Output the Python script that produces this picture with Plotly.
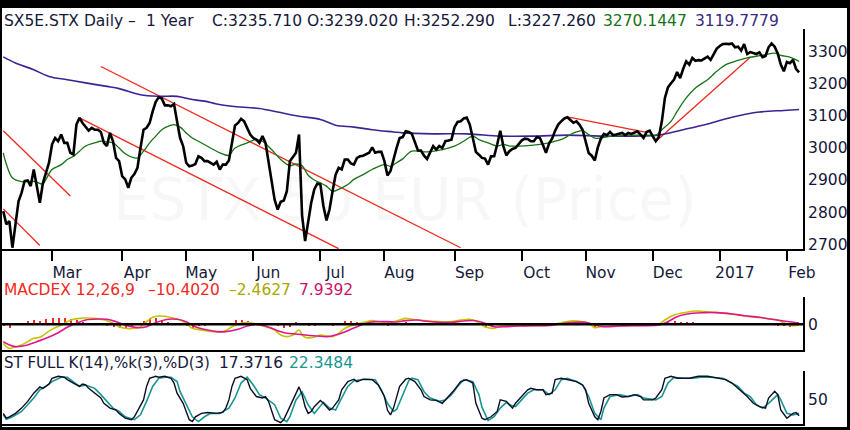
"""
SX5E daily chart, 1 year, with MACD and full stochastic panels
"""

import pandas as pd
import plotly.graph_objects as go
from plotly.subplots import make_subplots

# trading sessions from Feb 8 2016 (weekdays only)
sessions = pd.bdate_range("2016-02-08", periods=262)

# daily close, one value per session
close = [
    2803, 2762, 2772, 2689, 2762, 2834, 2860, 2897, 2899, 2881,
    2933, 2886, 2829, 2891, 2922, 2954, 3011, 3031, 3021, 3042,
    3016, 3016, 2985, 2980, 3073, 3094, 3078, 3065, 3054, 3063,
    3057, 3057, 3050, 3016, 3006, 3047, 3021, 2969, 2959, 2912,
    2902, 2876, 2907, 2919, 2938, 3000, 3057, 3063, 3078, 3114,
    3144, 3158, 3154, 3133, 3133, 3130, 3137, 3083, 3031, 3006,
    2954, 2943, 2945, 2950, 2974, 2969, 2959, 2959, 2954, 2948,
    2957, 2933, 2948, 2948, 2961, 3016, 3070, 3078, 3091, 3083,
    3063, 3042, 3031, 3026, 3016, 3037, 3016, 2959, 2897, 2839,
    2808, 2832, 2836, 2865, 2959, 2973, 2985, 3042, 2790, 2710,
    2772, 2829, 2871, 2889, 2886, 2819, 2774, 2808, 2865, 2917,
    2938, 2933, 2964, 2964, 2952, 2948, 2969, 2974, 2976, 2980,
    2985, 3002, 2985, 2988, 2988, 2959, 2914, 2928, 2969, 3000,
    3031, 3034, 3052, 3050, 3044, 3016, 2992, 2992, 2976, 2966,
    2988, 3006, 2995, 3006, 3000, 3021, 3023, 3026, 3065, 3081,
    3083, 3092, 3095, 3073, 3031, 2988, 2979, 2969, 2967, 2948,
    2974, 2974, 3011, 3054, 3006, 2977, 2990, 2997, 3000, 3011,
    3023, 3029, 3028, 3021, 3021, 3034, 3031, 3009, 2985, 3014,
    3029, 3054, 3073, 3083, 3092, 3096, 3088, 3079, 3083, 3072,
    3057, 3018, 2984, 2976, 2961, 3002, 3029, 3044, 3040, 3050,
    3040, 3042, 3044, 3047, 3040, 3047, 3044, 3047, 3052, 3042,
    3031, 3050, 3054, 3037, 3021, 3034, 3083, 3156, 3189, 3202,
    3213, 3237, 3218, 3247, 3270, 3260, 3281, 3272, 3274, 3273,
    3278, 3285, 3275, 3293, 3310, 3318, 3324, 3325, 3324, 3326,
    3314, 3316, 3304, 3324, 3293, 3299, 3295, 3293, 3298, 3283,
    3287, 3314, 3326, 3316, 3295, 3260, 3239, 3268, 3264, 3275,
    3247, 3236,
]

# short moving average (green), read at session numbers
ma_short_day = [0, 1, 3, 6, 10, 13, 14, 16, 19, 21, 23, 25, 27, 30, 32, 34, 36, 38,
                40, 43, 44, 46, 48, 50, 52, 55, 56, 58, 60, 62, 64, 68, 71, 74, 76,
                80, 83, 85, 88, 91, 94, 96, 98, 100, 102, 104, 106, 108, 110, 113,
                115, 118, 121, 125, 127, 129, 131, 134, 139, 144, 148, 151, 154,
                156, 159, 162, 164, 166, 169, 173, 176, 179, 181, 184, 186, 188,
                190, 192, 194, 196, 199, 202, 207, 211, 214, 216, 219, 221, 224,
                227, 231, 234, 237, 241, 244, 247, 250, 253, 255, 258, 261]
ma_short_val = [2985, 2950, 2907, 2895, 2896, 2888, 2902, 2933, 2948, 2964, 2974,
                2990, 3006, 3016, 3021, 3019, 3016, 3000, 2982, 2969, 2969, 2990,
                3016, 3037, 3057, 3071, 3073, 3065, 3047, 3031, 3021, 3000, 2985,
                2977, 3000, 3016, 3026, 3021, 2995, 2964, 2945, 2950, 2945, 2915,
                2900, 2891, 2881, 2865, 2871, 2886, 2902, 2917, 2933, 2948, 2943,
                2954, 2966, 2990, 2988, 2995, 3006, 3021, 3037, 3026, 3016, 3006,
                3011, 3006, 3006, 3008, 3011, 3016, 3021, 3031, 3042, 3050, 3054,
                3042, 3031, 3031, 3036, 3038, 3040, 3040, 3040, 3057, 3083, 3114,
                3156, 3187, 3213, 3239, 3260, 3273, 3281, 3286, 3291, 3296, 3289,
                3283, 3270]

# long moving average (purple)
ma_long_day = [0, 4, 10, 15, 21, 27, 34, 38, 45, 51, 57, 62, 66, 70, 75, 84, 90,
               97, 104, 109, 115, 121, 128, 131, 141, 152, 163, 174, 185, 197, 207,
               215, 223, 231, 239, 248, 256, 261]
ma_long_val = [3284, 3265, 3244, 3223, 3213, 3203, 3192, 3185, 3166, 3161, 3161,
               3151, 3146, 3137, 3130, 3123, 3112, 3099, 3089, 3071, 3065, 3057,
               3050, 3047, 3044, 3044, 3037, 3037, 3040, 3037, 3037, 3040, 3057,
               3075, 3096, 3112, 3117, 3120]

# drawn support / resistance levels
levels = [3330, 3263, 3215, 3100]

# drawn trend lines: start / end session and price
trend_start_day = [0, 0, 32, 25, 185, 214]
trend_start_val = [3054, 2810, 3254, 3094, 3097, 3020]
trend_end_day = [22, 12, 150, 110, 211, 245]
trend_end_val = [2850, 2696, 2689, 2686, 3049, 3283]

# MACD line (yellow) and signal (magenta)
macd_day = [0, 1, 2, 4, 6, 8, 10, 12, 14, 16, 19, 21, 23, 25, 27, 30, 32, 34, 36,
            38, 40, 43, 45, 47, 49, 51, 54, 56, 58, 60, 62, 65, 67, 69, 71, 73,
            75, 78, 80, 82, 84, 86, 89, 91, 93, 95, 97, 98, 99, 102, 104, 106,
            108, 110, 112, 115, 117, 119, 121, 123, 126, 128, 130, 132, 134, 138,
            143, 147, 150, 153, 156, 158, 161, 163, 171, 180, 183, 186, 190, 192,
            194, 196, 204, 209, 215, 217, 220, 224, 227, 230, 233, 237, 241, 245,
            250, 254, 256, 259, 261]
macd_val = [-114, -134, -144, -134, -124, -104, -84, -78, -54, -30, -4, 16, 30,
            36, 38, 36, 30, 22, 6, -14, -24, -24, -14, 16, 42, 50, 46, 36, 26, 6,
            -24, -34, -40, -44, -44, -38, -14, 6, 10, 6, -4, -14, -34, -64, -74,
            -64, -34, -64, -78, -78, -64, -70, -74, -54, -24, -4, 6, 16, 22, 16,
            10, 16, 26, 36, 30, 22, 16, 16, 26, 30, 10, -14, -24, -10, -8, -4, 10,
            20, 16, 6, -20, -14, -8, -6, 2, 26, 56, 72, 80, 76, 72, 66, 56, 46,
            36, 26, 10, -8, -2]

signal_day = [0, 2, 4, 8, 11, 14, 18, 21, 24, 27, 31, 34, 37, 40, 44, 47, 50, 54,
              57, 60, 63, 67, 70, 73, 77, 80, 83, 86, 90, 93, 96, 99, 103, 106,
              109, 113, 116, 119, 122, 126, 129, 132, 136, 138, 143, 147, 151, 155,
              158, 161, 165, 169, 173, 178, 182, 186, 191, 194, 197, 202, 206, 210,
              215, 218, 221, 226, 230, 234, 239, 243, 248, 252, 256, 261]
signal_val = [-104, -124, -134, -124, -104, -84, -50, -18, 6, 26, 32, 30, 16, -4,
              -20, -14, 10, 30, 30, 16, -14, -34, -44, -44, -30, -10, 0, -10, -38,
              -54, -58, -64, -70, -74, -64, -38, -14, 6, 16, 16, 14, 22, 26, 20,
              12, 12, 20, 22, 6, -14, -14, -10, -8, -8, 0, 10, 12, -4, -14, -10,
              -8, -8, -4, 16, 46, 66, 70, 70, 62, 52, 42, 30, 20, 8]

# MACD histogram, every second session
hist_day = list(range(0, 262, 2))
hist_val = [-10, -20, 0, 6, 20, 26, 22, 30, 38, 38, 36, 34, 27, 17, 9, 5, -2, -8,
            -16, -22, -20, -11, 2, 23, 38, 38, 29, 16, 5, -1, -10, -24, -10, -10,
            -4, 0, 4, 10, 25, 28, 20, 9, -2, -4, 0, -12, -22, -14, 13, -2, -12, -8,
            8, 4, -6, 4, 20, 20, 16, 12, 10, 4, -2, -6, 1, 8, 14, 6, 0, 2, 2, 3, 4,
            4, 6, 8, 8, 0, -4, -20, -14, -2, 5, 4, 2, 1, 1, 2, 3, 4, 0, 6, 9, 10,
            7, 4, -2, -16, -2, 1, 2, 1, 1, 1, 2, 2, 3, 5, 10, 20, 20, 14, 12, 12,
            11, 6, 3, 0, 0, 0, -2, -1, -2, -2, -2, -4, -4, -6, -10, -14, -10]

# full stochastic %K (black) and %D (teal)
stk_day = [0, 1, 2, 4, 6, 8, 10, 12, 13, 15, 16, 18, 20, 21, 23, 25, 26, 27, 28,
           30, 32, 33, 35, 37, 38, 40, 42, 43, 44, 46, 47, 48, 50, 51, 53, 55, 56,
           57, 59, 60, 61, 62, 63, 65, 67, 70, 72, 73, 74, 75, 76, 78, 80, 81, 83,
           85, 86, 87, 88, 89, 91, 92, 94, 96, 97, 98, 99, 100, 101, 102, 104,
           105, 107, 108, 110, 111, 113, 115, 116, 118, 120, 121, 123, 125, 126,
           127, 128, 130, 132, 133, 135, 137, 138, 140, 142, 144, 146, 148, 150,
           152, 154, 155, 157, 158, 160, 162, 163, 165, 167, 168, 170, 172, 173,
           175, 177, 178, 180, 181, 183, 185, 188, 190, 191, 192, 194, 195, 196,
           197, 199, 201, 203, 205, 207, 209, 210, 213, 214, 216, 217, 219, 221,
           225, 228, 231, 235, 237, 239, 241, 243, 244, 246, 248, 250, 251, 253,
           254, 255, 257, 259, 260, 261]
stk_val = [22, 12, 15, 22, 33, 47, 64, 77, 74, 83, 95, 99, 97, 92, 85, 78, 83, 81,
           74, 64, 54, 43, 33, 29, 22, 12, 9, 15, 26, 50, 78, 95, 99, 97, 99, 95,
           85, 64, 43, 26, 9, 5, 15, 22, 24, 22, 24, 33, 50, 78, 95, 99, 92, 74,
           57, 54, 57, 47, 29, 9, 3, 9, 36, 64, 77, 61, 36, 22, 26, 36, 49, 43,
           29, 33, 50, 71, 88, 93, 88, 93, 93, 92, 81, 57, 29, 19, 33, 78, 93, 95,
           88, 71, 57, 50, 49, 43, 57, 71, 88, 92, 85, 43, 12, 9, 15, 26, 50, 47,
           33, 43, 57, 71, 74, 71, 71, 61, 64, 92, 95, 92, 88, 81, 71, 43, 15, 9,
           26, 54, 61, 61, 56, 57, 61, 57, 50, 50, 54, 71, 95, 99, 95, 95, 99, 99,
           95, 92, 85, 74, 61, 57, 43, 36, 33, 54, 68, 61, 29, 12, 22, 24, 17]

std_day = [0, 1, 3, 6, 8, 10, 12, 14, 16, 19, 21, 23, 25, 27, 30, 32, 34, 36, 38,
           40, 43, 45, 47, 49, 51, 53, 55, 57, 58, 60, 62, 64, 66, 68, 71, 74, 76,
           78, 80, 82, 84, 86, 89, 91, 93, 94, 96, 98, 100, 102, 103, 105, 107,
           109, 111, 113, 115, 117, 119, 122, 124, 126, 128, 129, 131, 133, 134,
           136, 138, 140, 143, 145, 147, 149, 151, 154, 156, 157, 159, 161, 163,
           165, 166, 168, 170, 172, 174, 177, 179, 181, 183, 185, 188, 190, 192,
           194, 196, 197, 199, 202, 205, 208, 210, 214, 216, 218, 220, 223, 226,
           229, 232, 236, 238, 241, 243, 245, 247, 249, 251, 254, 255, 257, 259,
           261]
std_val = [19, 10, 15, 26, 40, 54, 71, 78, 88, 97, 97, 88, 78, 81, 74, 61, 47, 33,
           26, 15, 9, 19, 47, 78, 95, 97, 97, 88, 67, 40, 15, 5, 15, 22, 22, 33,
           54, 85, 97, 81, 61, 54, 40, 12, 5, 15, 50, 67, 40, 22, 30, 45, 33, 29,
           54, 78, 90, 92, 93, 92, 71, 43, 26, 30, 60, 90, 95, 92, 67, 54, 47, 50,
           61, 78, 92, 88, 61, 35, 7, 15, 33, 45, 40, 36, 50, 64, 71, 71, 61, 71,
           92, 95, 88, 81, 57, 22, 9, 33, 57, 61, 57, 61, 54, 50, 57, 85, 97, 95,
           95, 97, 97, 95, 88, 78, 64, 57, 40, 33, 43, 61, 50, 22, 19, 22]

month_ticks = ["2016-03-01", "2016-04-01", "2016-05-02", "2016-06-01", "2016-07-01",
               "2016-08-01", "2016-09-01", "2016-10-03", "2016-11-01", "2016-12-01",
               "2017-01-02", "2017-02-01"]
month_labels = ["Mar", "Apr", "May", "Jun", "Jul", "Aug", "Sep", "Oct", "Nov",
                "Dec", "2017", "Feb"]

FONT = "DejaVu Sans"
NAVY = "#15183a"
RED = "#f0281e"
GREEN = "#167316"
PURPLE = "#3c2394"
YELLOW = "#c4c400"
MAGENTA = "#e0158c"
TEAL = "#18968f"


def px(x):
    # pixel column -> paper x (plot area spans 2..803)
    return (x - 2) / 801


def py(y):
    # pixel row -> paper y (plot area spans 29..424)
    return (424 - y) / 395


fig = make_subplots(rows=3, cols=1, shared_xaxes=True)

# trend lines as one broken trace
tx, ty = [], []
for a, va, b, vb in zip(trend_start_day, trend_start_val, trend_end_day, trend_end_val):
    tx += [sessions[a], sessions[b], None]
    ty += [va, vb, None]

fig.add_trace(go.Scatter(x=tx, y=ty, mode="lines", line=dict(color=RED, width=1.3)),
              row=1, col=1)
fig.add_trace(go.Scatter(x=sessions[ma_long_day], y=ma_long_val, mode="lines",
                         line=dict(color=PURPLE, width=1.6, shape="spline")),
              row=1, col=1)
fig.add_trace(go.Scatter(x=sessions[ma_short_day], y=ma_short_val, mode="lines",
                         line=dict(color=GREEN, width=1.3, shape="spline")),
              row=1, col=1)
fig.add_trace(go.Scatter(x=sessions, y=close, mode="lines",
                         line=dict(color="black", width=2.6)),
              row=1, col=1)

# MACD panel
fig.add_trace(go.Bar(x=sessions[hist_day], y=hist_val, marker_color=RED,
                     marker_line_width=0, width=0.4 * 86400000, offset=0),
              row=2, col=1)
fig.add_trace(go.Scatter(x=sessions[macd_day], y=macd_val, mode="lines",
                         line=dict(color=YELLOW, width=1.6, shape="spline")),
              row=2, col=1)
fig.add_trace(go.Scatter(x=sessions[signal_day], y=signal_val, mode="lines",
                         line=dict(color=MAGENTA, width=1.6, shape="spline")),
              row=2, col=1)

# stochastic panel
fig.add_trace(go.Scatter(x=sessions[std_day], y=std_val, mode="lines",
                         line=dict(color=TEAL, width=1.6)),
              row=3, col=1)
fig.add_trace(go.Scatter(x=sessions[stk_day], y=stk_val, mode="lines",
                         line=dict(color="#0d0d26", width=1.4)),
              row=3, col=1)

# support / resistance levels
for lv in levels:
    fig.add_shape(type="line", xref="x domain", yref="y", x0=0, x1=1, y0=lv, y1=lv,
                  line=dict(color="black", width=1.5), layer="below")

# MACD zero line drawn over the histogram
fig.add_shape(type="line", xref="x2 domain", yref="y2", x0=0, x1=1, y0=0, y1=0,
              line=dict(color="black", width=2.5), layer="above")

# white page inside the black frame
fig.add_shape(type="rect", xref="paper", yref="paper", x0=px(2), x1=px(847),
              y0=py(427), y1=py(8), fillcolor="white", line_width=0, layer="below")

# headers: (left px, centre px, text, colour, size)
headers = [
    (3, 21, "SX5E.STX Daily \u2013", NAVY, 15.5),
    (145, 21, "1 Year", NAVY, 15.5),
    (211, 21, "C:3235.710", NAVY, 15.5),
    (306, 21, "O:3239.020", NAVY, 15.5),
    (403, 21, "H:3252.290", NAVY, 15.5),
    (507, 21, "L:3227.260", NAVY, 15.5),
    (602, 21, "3270.1447", GREEN, 15.5),
    (694, 21, "3119.7779", "#3a2a80", 15.5),
    (3, 290, "MACDEX 12,26,9", RED, 15.5),
    (147, 290, "\u201310.4020", RED, 15.5),
    (228, 290, "\u20132.4627", "#a9a800", 15.5),
    (298, 290, "7.9392", "#c8156a", 15.5),
    (3, 363, "ST FULL K(14),%k(3),%D(3)", NAVY, 15),
    (218, 363, "17.3716", NAVY, 15.5),
    (288, 363, "22.3484", TEAL, 15.5),
]
for hx, hy, text, color, size in headers:
    fig.add_annotation(x=px(hx), y=py(hy), xref="paper", yref="paper", text=text,
                       showarrow=False, xanchor="left", yanchor="middle", borderpad=0,
                       font=dict(family=FONT, size=size, color=color))

# faint watermark
fig.add_annotation(x=px(405), y=py(200), xref="paper", yref="paper",
                   text="ESTX 50 EUR (Price)", showarrow=False,
                   font=dict(family=FONT, size=58, color="rgba(0,0,0,0.03)"))

axis_font = dict(family=FONT, size=15.5, color=NAVY)

fig.update_xaxes(
    range=["2016-02-05 14:00", "2017-02-08 07:00"],
    rangebreaks=[dict(bounds=["sat", "mon"])],
    showgrid=False, zeroline=False,
    showline=True, linecolor="black", linewidth=2,
    ticks="", showticklabels=False,
)
fig.update_xaxes(
    row=1, col=1,
    tickvals=month_ticks, ticktext=month_labels, showticklabels=True,
    ticks="outside", ticklen=10, tickwidth=2, tickcolor="black",
    ticklabelshift=15, ticklabelstandoff=-2, tickfont=axis_font,
)

fig.update_yaxes(side="right", showgrid=False, showline=True, linecolor="black",
                 linewidth=2, ticks="", tickfont=axis_font, zeroline=False)
fig.update_yaxes(row=1, col=1, range=[2685, 3371], domain=[py(249), 1],
                 tickvals=[2700, 2800, 2900, 3000, 3100, 3200, 3300])
fig.update_yaxes(row=2, col=1, range=[-154, 164], domain=[py(350), py(297)],
                 tickvals=[0])
fig.update_yaxes(row=3, col=1, range=[0, 110], domain=[0, py(371)], tickvals=[50])

fig.update_layout(
    width=850, height=430,
    margin=dict(l=2, r=47, t=29, b=6),
    paper_bgcolor="black", plot_bgcolor="white",
    showlegend=False, hovermode=False, bargap=0,
    font=dict(family=FONT, color=NAVY),
)

# the page's default body margin would push the 850x430 figure off the window
fig.write_html("out.html",
               config={"displayModeBar": False},
               post_script="document.body.style.margin='0';"
                           "document.body.style.overflow='hidden';")
